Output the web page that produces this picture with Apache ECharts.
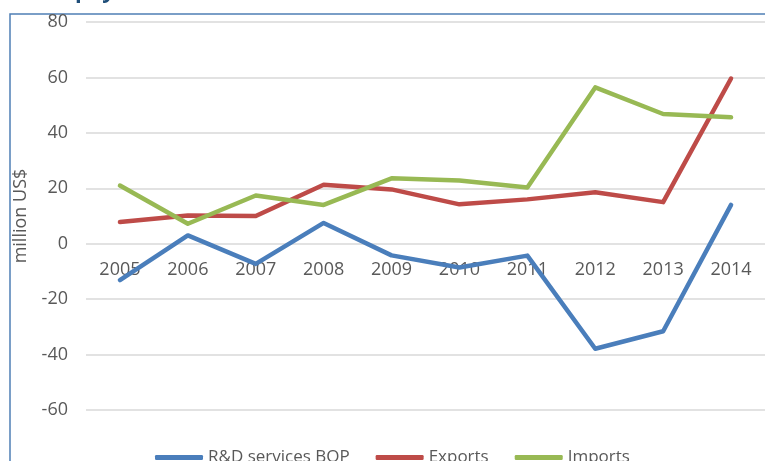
<!DOCTYPE html>
<html>
<head>
<meta charset="utf-8">
<script src="https://cdn.jsdelivr.net/npm/echarts@6/dist/echarts.min.js"></script>
<style>
  html, body { margin: 0; padding: 0; background: #ffffff; }
  #chart { width: 765px; height: 461px; }
</style>
</head>
<body>
<div id="chart"></div>
<script>
// Years on the horizontal axis
const years = ['2005', '2006', '2007', '2008', '2009', '2010', '2011', '2012', '2013', '2014'];

// R&D services, million US$
const balance = [-13.1, 3.0, -7.3, 7.5, -4.2, -8.6, -4.3, -37.9, -31.6, 14.0];
const exportsR = [7.8, 10.2, 10.0, 21.3, 19.6, 14.2, 16.0, 18.6, 15.0, 59.6];
const importsR = [21.0, 7.2, 17.4, 14.0, 23.6, 22.8, 20.3, 56.4, 46.8, 45.6];

const seriesNames = ['R&D services BOP', 'Exports', 'Imports'];
const seriesColors = ['#4a7ebb', '#be4b48', '#98b954'];

const yMin = -60;
const yMax = 80;
const yStep = 20;

const axisFont = '"Open Sans", "Noto Sans", sans-serif';
const labelColor = '#595959';

const chart = echarts.init(document.getElementById('chart'), null, { renderer: 'canvas' });

function lineSeries(name, data, color) {
  return {
    name: name,
    type: 'line',
    data: data,
    symbol: 'none',
    smooth: false,
    lineStyle: { width: 4.5, color: color, cap: 'round', join: 'round' },
    itemStyle: { color: color }
  };
}

chart.setOption({
  animation: false,
  backgroundColor: '#ffffff',
  grid: { left: 86, right: -5, top: 22, bottom: 51, containLabel: false },
  xAxis: {
    type: 'category',
    data: years,
    boundaryGap: true,
    offset: 0,
    axisLine: { show: false, onZero: false },
    axisTick: { show: false },
    axisLabel: { color: labelColor, fontFamily: axisFont, fontSize: 18, margin: 17 },
    splitLine: { show: false }
  },
  yAxis: {
    type: 'value',
    min: yMin,
    max: yMax,
    interval: yStep,
    name: 'million US$',
    nameLocation: 'middle',
    nameGap: 56,
    nameTextStyle: { color: labelColor, fontFamily: axisFont, fontSize: 18 },
    axisLine: { show: false },
    axisTick: { show: false },
    axisLabel: { color: labelColor, fontFamily: axisFont, fontSize: 18, margin: 18 },
    splitLine: { show: true, lineStyle: { color: '#d9d9d9', width: 1.5 } }
  },
  legend: {
    data: seriesNames,
    left: 150,
    top: 444,
    icon: 'roundRect',
    itemWidth: 48,
    itemHeight: 5,
    itemGap: 26,
    textStyle: { color: labelColor, fontFamily: axisFont, fontSize: 17 }
  },
  graphic: [
    {
      type: 'rect',
      shape: { x: 10, y: 14, width: 800, height: 500 },
      style: { fill: 'none', stroke: '#4f7fb5', lineWidth: 1.5 },
      silent: true
    },
    {
      type: 'text',
      left: 75,
      top: -19,
      style: {
        text: 'payments',
        fill: '#1f4e79',
        font: 'bold 22px "Open Sans", "Noto Sans", sans-serif'
      },
      silent: true
    }
  ],
  series: [
    lineSeries(seriesNames[0], balance, seriesColors[0]),
    lineSeries(seriesNames[1], exportsR, seriesColors[1]),
    lineSeries(seriesNames[2], importsR, seriesColors[2])
  ]
});

// Move the year labels up so they hang from the zero line of the value axis
const zeroY = chart.convertToPixel({ yAxisIndex: 0 }, 0);
const bottomY = chart.convertToPixel({ yAxisIndex: 0 }, yMin);
chart.setOption({ xAxis: { offset: zeroY - bottomY } });
</script>
</body>
</html>
